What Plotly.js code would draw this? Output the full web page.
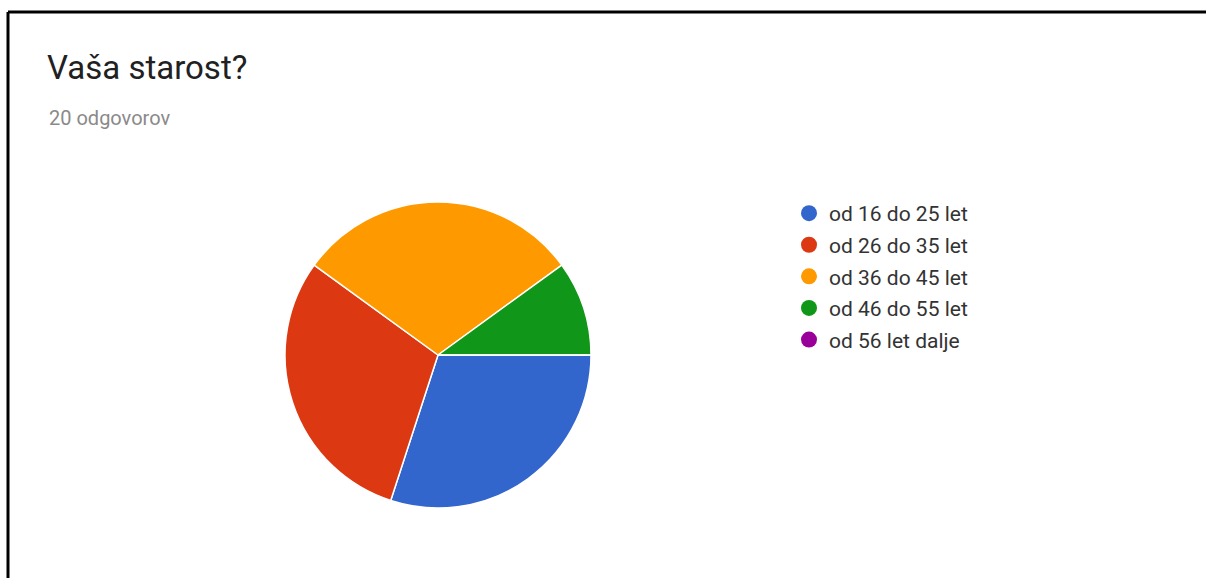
<!DOCTYPE html>
<html>
<head>
<meta charset="utf-8">
<script src="https://cdn.plot.ly/plotly-3.0.1.min.js"></script>
<style>html,body{margin:0;padding:0;background:#fff;}#chart{width:1206px;height:578px;}</style>
</head>
<body>
<div id="chart"></div>
<script>
const categories = ["od 16 do 25 let", "od 26 do 35 let", "od 36 do 45 let", "od 46 do 55 let", "od 56 let dalje"];
const counts = [6, 6, 6, 2, 0];
const colors = ["#3366cc", "#dc3912", "#ff9900", "#109618", "#990099"];
const titleText = "Vaša starost?";
const subtitleText = "20 odgovorov";

const W = 1206, H = 578;
const cx = 438, cy = 355, r = 153;

const traces = [{
  type: "pie",
  labels: categories,
  values: counts,
  sort: false,
  direction: "clockwise",
  rotation: 90,
  textinfo: "none",
  showlegend: false,
  marker: {colors: colors, line: {color: "#ffffff", width: 1.5}},
  domain: {x: [(cx - r) / W, (cx + r) / W], y: [(H - cy - r) / H, (H - cy + r) / H]},
  hovertemplate: "%{label}: %{value} (%{percent})<extra></extra>"
}];
categories.forEach((c, i) => {
  traces.push({
    type: "scatter", mode: "markers", x: [null], y: [null],
    name: c, legendgroup: "g" + i,
    marker: {color: colors[i], size: 20, symbol: "circle"},
    hoverinfo: "skip"
  });
});

const layout = {
  width: W, height: H,
  margin: {l: 0, r: 0, t: 0, b: 0},
  paper_bgcolor: "#ffffff", plot_bgcolor: "#ffffff",
  font: {family: "Roboto, Arial, sans-serif", color: "#222222"},
  title: {
    text: titleText, font: {size: 33, color: "#212121", family: "Roboto, Arial, sans-serif"},
    xref: "paper", yref: "paper", x: 47 / W, xanchor: "left", y: 1 - 56 / H, yanchor: "top"
  },
  xaxis: {visible: false, domain: [0.9, 1]},
  yaxis: {visible: false, domain: [0.9, 1]},
  showlegend: true,
  legend: {
    x: 789 / W, xanchor: "left", y: 1 - 193 / H, yanchor: "top",
    font: {size: 21, color: "#333333", family: "Roboto, Arial, sans-serif"},
    tracegroupgap: 1.3, traceorder: "grouped", itemclick: false, itemdoubleclick: false,
    bgcolor: "rgba(0,0,0,0)"
  },
  annotations: [{
    text: subtitleText, xref: "paper", yref: "paper", x: 47 / W, xanchor: "left",
    y: 1 - 104 / H, yanchor: "top", showarrow: false,
    font: {size: 20, color: "#8a8a8a", family: "Roboto, Arial, sans-serif"}
  }],
  shapes: [
    {type: "line", xref: "paper", yref: "paper", x0: 8 / W, x1: 8 / W, y0: 0, y1: 1 - 12 / H, line: {color: "#000000", width: 3}},
    {type: "line", xref: "paper", yref: "paper", x0: 8 / W, x1: 1, y0: 1 - 12 / H, y1: 1 - 12 / H, line: {color: "#000000", width: 3}}
  ]
};

Plotly.newPlot("chart", traces, layout, {displayModeBar: false, staticPlot: false});
</script>
</body>
</html>
